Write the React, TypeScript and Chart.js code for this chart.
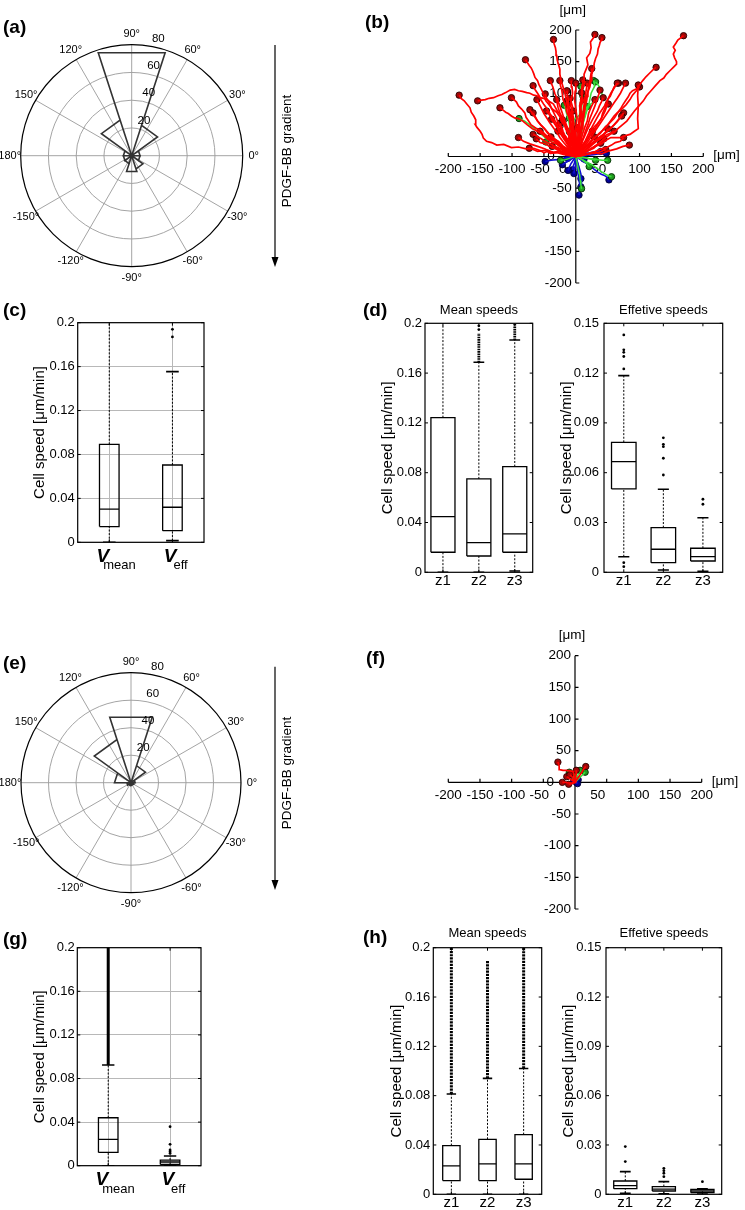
import React, { useEffect, useRef } from 'react';
import { Chart, registerables } from 'chart.js';

Chart.register(...registerables);

const FONT = '"Liberation Sans", Arial, Helvetica, sans-serif';

// ---------------- polar rose (a), (e) ----------------
const roseBinEdgesDeg = [0, 36, 72, 108, 144, 180, 216, 252, 288, 324, 360];
const roseCountsA = [6, 23, 78, 27, 6, 6, 6, 12, 10, 6];
const roseCountsE = [3, 13, 50, 33, 12, 3, 2, 2, 2, 2];
const polarRingValues = [20, 40, 60, 80];
const polarSpokeDeg = [0, 30, 60, 90, 120, 150, 180, 210, 240, 270, 300, 330];
const polarAngleLabels = ['0°', '30°', '60°', '90°', '120°', '150°', '180°', '-150°', '-120°', '-90°', '-60°', '-30°'];
const polarRadialLabels = ['20', '40', '60', '80'];
const gradientLabel = 'PDGF-BB gradient';

// ---------------- trajectories (b), (f) ----------------
type P = [number, number];
const trajTicks = [-200, -150, -100, -50, 0, 50, 100, 150, 200];
const trajTickLabels = ['-200', '-150', '-100', '-50', '0', '50', '100', '150', '200'];
const trajUnit = '[μm]';

const redTracksB: P[][] = [
  [[0,0],[-8,6],[-15,3],[-25,8],[-34,6],[-44,10],[-55,9],[-66,13],[-78,12],[-90,15],[-101,14],[-113,19],[-124,18],[-132,22],[-140,24],[-145,29],[-147,35],[-150,40],[-155,46],[-158,51],[-157,58],[-160,64],[-164,70],[-166,77],[-171,83],[-175,88],[-180,92],[-183,97]],
  [[0,0],[-3,9],[-6,18],[-11,28],[-10,36],[-14,45],[-19,54],[-24,66],[-29,72],[-35,83],[-40,86],[-45,90],[-51,92],[-56,93],[-61,96],[-66,97],[-72,100],[-77,101],[-84,103],[-90,104],[-96,106],[-103,105],[-110,101],[-116,98],[-122,96],[-129,93],[-136,92],[-142,90],[-148,89],[-154,88]],
  [[0,0],[-5,6],[-8,10],[-14,12],[-20,15],[-26,20],[-32,24],[-38,26],[-45,30],[-50,37],[-56,42],[-63,45],[-70,50],[-74,56],[-78,62],[-80,69],[-85,75],[-90,80],[-93,86],[-97,90],[-101,93]],
  [[0,0],[-7,4],[-14,6],[-22,13],[-30,20],[-37,22],[-44,27],[-52,35],[-60,40],[-68,44],[-76,50],[-83,56],[-90,60],[-96,61],[-101,64],[-106,68],[-110,70],[-115,74],[-119,77]],
  [[0,0],[-2,9],[-4,18],[-8,28],[-10,40],[-16,47],[-22,55],[-25,63],[-30,70],[-37,75],[-42,82],[-47,88],[-50,95],[-52,102],[-55,108],[-58,114],[-60,120],[-64,125],[-66,131],[-68,136],[-70,140],[-73,144],[-75,147],[-77,150],[-79,153]],
  [[0,0],[3,11],[2,22],[-2,36],[-5,50],[-6,60],[-9,70],[-12,80],[-15,90],[-17,100],[-20,110],[-23,120],[-25,130],[-25,138],[-27,145],[-29,152],[-30,160],[-31,166],[-32,172],[-34,178],[-35,185]],
  [[0,0],[4,12],[2,22],[6,35],[3,48],[9,62],[7,76],[11,90],[10,104],[14,118],[13,130],[19,145],[17,156],[22,163],[24,172],[23,181],[28,188],[30,193]],
  [[0,0],[4,10],[6,20],[7,32],[10,45],[11,58],[14,72],[15,86],[18,100],[22,110],[24,120],[25,130],[28,140],[29,148],[31,155],[34,162],[35,170],[37,176],[38,180],[40,184],[41,188]],
  [[0,0],[8,2],[14,6],[21,10],[28,13],[34,19],[40,24],[47,30],[54,35],[60,38],[66,44],[73,50],[80,56],[86,64],[92,72],[99,80],[106,88],[111,96],[118,104],[125,112],[132,120],[138,124],[142,130],[148,136],[153,141],[158,146],[158,150],[155,156],[153,162],[156,168],[153,173],[157,179],[160,184],[165,188],[169,191]],
  [[0,0],[6,8],[12,14],[21,21],[30,30],[37,37],[44,43],[52,52],[60,60],[65,68],[72,75],[79,82],[85,90],[89,97],[95,104],[99,112],[105,120],[110,126],[116,132],[121,137],[126,141]],
  [[0,0],[5,7],[10,12],[18,18],[25,25],[31,31],[38,36],[44,44],[50,50],[55,57],[60,64],[66,70],[70,75],[74,82],[78,88],[82,94],[85,100],[89,104],[93,106],[97,108],[100,110]],
  [[0,0],[3,8],[8,16],[14,22],[20,30],[24,38],[28,46],[34,52],[40,60],[42,68],[45,75],[48,82],[50,90],[54,95],[56,100],[58,105],[60,110],[64,114],[67,116]],
  [[0,0],[3,9],[5,18],[6,28],[8,40],[10,48],[12,58],[13,70],[15,80],[17,88],[18,95],[19,102],[20,110],[22,118],[23,125],[24,132],[25,139]],
  [[0,0],[-3,7],[-7,14],[-10,22],[-15,30],[-20,36],[-26,44],[-30,52],[-35,60],[-40,67],[-44,74],[-50,82],[-55,90],[-57,95],[-60,100],[-64,106],[-67,112]],
  [[0,0],[-2,10],[-4,20],[-7,30],[-10,40],[-14,48],[-18,58],[-21,68],[-25,80],[-29,90],[-33,100],[-36,110],[-40,120]],
  [[0,0],[1,12],[-2,24],[-4,36],[-8,50],[-10,60],[-14,70],[-16,80],[-20,90],[-21,98],[-22,105],[-24,112],[-25,120]],
  [[0,0],[-2,10],[1,20],[-1,30],[-3,40],[-4,52],[-6,62],[-6,72],[-8,80],[-7,90],[-5,100],[-6,110],[-7,120]],
  [[0,0],[1,12],[3,24],[2,36],[4,50],[5,60],[7,70],[6,80],[8,90],[10,98],[9,105],[10,113],[11,121]],
  [[0,0],[-5,9],[-10,18],[-14,26],[-20,35],[-23,44],[-27,52],[-31,62],[-35,70],[-39,78],[-42,86],[-46,92],[-48,99]],
  [[0,0],[-6,7],[-12,14],[-19,22],[-25,30],[-29,37],[-34,44],[-40,52],[-45,60],[-50,68],[-54,76],[-58,84],[-61,90]],
  [[0,0],[-8,6],[-16,12],[-23,19],[-30,25],[-36,30],[-42,36],[-48,43],[-55,50],[-60,56],[-64,62],[-68,68],[-72,74]],
  [[0,0],[-7,4],[-14,8],[-22,14],[-30,20],[-35,26],[-40,32],[-45,38],[-50,45],[-55,50],[-60,56],[-63,62],[-67,69]],
  [[0,0],[6,4],[12,8],[18,14],[25,20],[32,25],[38,30],[44,35],[50,40],[54,44],[58,48],[62,52],[65,55],[68,59],[70,62],[73,66],[75,69]],
  [[0,0],[8,7],[15,14],[22,19],[30,25],[36,30],[42,34],[48,40],[55,45],[60,50],[64,55],[68,60],[72,64]],
  [[0,0],[5,7],[10,14],[15,22],[20,30],[25,37],[30,44],[35,52],[40,60],[43,66],[46,72],[48,78],[51,83]],
  [[0,0],[-1,8],[-3,16],[-4,23],[-5,30],[-7,38],[-8,45],[-9,52],[-10,60],[-11,67],[-12,74],[-13,81],[-14,88]],
  [[0,0],[4,8],[8,16],[11,26],[15,35],[18,42],[22,50],[26,58],[30,65],[34,72],[37,80],[40,86],[43,93]],
  [[0,0],[-9,2],[-18,3],[-29,6],[-40,5],[-45,8],[-50,6],[-55,9],[-60,8],[-64,10],[-67,11],[-70,12],[-73,13]],
  [[0,0],[-7,3],[-15,6],[-22,11],[-30,15],[-35,17],[-40,20],[-45,22],[-50,25],[-54,28],[-58,30],[-62,33],[-67,35]],
  [[0,0],[5,3],[10,6],[15,11],[20,15],[25,18],[30,22],[35,26],[40,30],[43,34],[46,37],[48,40],[50,44]],
  [[0,0],[5,2],[10,4],[15,7],[20,10],[24,12],[28,15],[32,18],[35,20],[38,22],[40,24],[42,26],[44,28]],
  [[0,0],[6,1],[12,2],[18,4],[25,5],[29,5],[33,6],[37,7],[40,8],[42,9],[44,10],[47,11]],
  [[0,0],[-4,6],[-8,12],[-12,18],[-15,25],[-19,30],[-22,36],[-25,40],[-28,45],[-30,48],[-33,52],[-36,56],[-38,59]],
  [[0,0],[-3,5],[-5,10],[-8,15],[-10,20],[-12,25],[-15,30],[-18,35],[-20,40],[-21,43],[-22,46],[-24,49],[-25,52]],
  [[0,0],[4,10],[8,20],[12,30],[15,40],[19,50],[22,60],[26,70],[30,80],[32,86],[34,92],[36,98],[38,105]],
  [[0,0],[-1,10],[-2,20],[-4,30],[-5,40],[-7,48],[-8,58],[-9,66],[-10,75],[-11,82],[-12,90],[-13,97],[-14,104]],
  [[0,0],[-5,8],[-10,15],[-15,22],[-20,30],[-24,36],[-27,42],[-31,48],[-35,55],[-38,60],[-40,64],[-43,68],[-46,72]],
  [[0,0],[2,10],[3,20],[4,30],[5,40],[6,48],[6,55],[7,62],[7,70],[8,78],[8,85],[9,93],[9,101]],
  [[0,0],[-1,8],[-1,15],[-2,22],[-2,30],[-3,35],[-3,40],[-4,45],[-4,50],[-3,56],[-4,62],[-5,67],[-4,72]],
  [[0,0],[-3,10],[-6,20],[-10,30],[-14,40],[-17,49],[-21,58]],
  [[0,0],[-7,3],[-15,5],[-21,8],[-28,10],[-33,13],[-37,16]],
  [[0,0],[-7,5],[-14,10],[-21,15],[-28,20],[-34,26],[-39,31]],
  [[0,0],[5,5],[10,10],[15,15],[20,20],[25,26],[29,31]],
  [[0,0],[7,4],[14,8],[21,11],[28,14],[34,18],[39,21]],
  [[0,0],[7,12],[15,25],[22,40],[30,55],[37,68],[45,80],[50,90],[55,100],[60,108],[65,116]],
  [[0,0],[10,12],[20,25],[30,40],[40,55],[50,70],[60,85],[65,92],[70,100],[74,108],[78,116]],
  [[0,0],[-2,15],[-3,30],[0,45],[2,60],[0,75],[-2,90],[-1,103],[0,116]],
  [[0,0],[3,15],[6,30],[8,45],[10,60],[12,75],[14,90],[16,103],[18,116]],
  [[0,0],[-3,15],[-5,30],[-7,45],[-9,60],[-11,72],[-13,84]],
  [[0,0],[10,5],[20,10],[30,16],[40,20],[48,26],[55,30],[62,30],[70,30],[78,33],[85,35],[92,40],[98,44],[97,60],[98,80],[97,96],[98,113]],
  [[0,0],[-4,8],[-8,14],[-12,22],[-18,28],[-22,35],[-28,40]],
  [[0,0],[4,8],[9,12],[13,20],[18,26],[22,34],[26,40]],
  [[0,0],[2,10],[-2,18],[1,28],[-1,36],[2,45]],
  [[0,0],[-6,5],[-12,12],[-20,16],[-27,24],[-34,28],[-42,30],[-50,36],[-56,40]],
  [[0,0],[6,5],[14,9],[22,15],[28,22],[36,26],[44,32],[52,36],[60,40]],
  [[0,0],[-2,12],[-8,22],[-10,34],[-16,44],[-18,56],[-24,66],[-28,78],[-30,90]],
  [[0,0],[2,12],[8,22],[10,34],[14,46],[18,56],[20,68],[24,78],[30,90]],
  [[0,0],[-10,4],[-20,6],[-28,12],[-38,14],[-48,20],[-56,22],[-62,28]],
  [[0,0],[10,2],[20,5],[30,8],[40,12],[48,14],[56,18],[62,22],[70,24],[75,30]],
  [[0,0],[-3,14],[-1,26],[-5,40],[-3,52],[-7,66],[-5,78],[-9,92]],
  [[0,0],[5,14],[3,26],[7,40],[5,52],[9,66],[7,78],[12,90]],
  [[0,0],[-14,2],[-26,8],[-38,6],[-48,12],[-60,16],[-72,20],[-82,24],[-90,30]],
  [[0,0],[16,3],[28,6],[40,4],[52,9],[64,12],[74,16],[84,18]],
];
const greenTracksB: P[][] = [
  [[0,0],[-5,5],[-10,8],[-16,11],[-22,14],[-28,18],[-35,22],[-42,26],[-48,30],[-54,35],[-60,40],[-66,45],[-72,50],[-76,53],[-80,56],[-85,58],[-89,60]],
  [[0,0],[-2,10],[-4,20],[-6,30],[-8,40],[-10,50],[-12,60],[-15,70],[-18,81]],
  [[0,0],[2,12],[4,25],[5,38],[6,50],[8,62],[9,75],[10,86],[11,96]],
  [[0,0],[3,15],[6,30],[9,42],[12,55],[16,68],[20,80],[22,90],[24,100],[27,106],[30,112],[29,116],[28,120]],
  [[0,0],[2,15],[3,30],[5,45],[6,60],[6,72],[7,85],[8,98],[8,111]],
  [[0,0],[-3,8],[-5,15],[-8,27],[-10,39]],
  [[0,0],[-8,4],[-15,8],[-22,11],[-30,14],[-38,18],[-47,23]],
  [[0,0],[10,-1],[20,-3],[28,-4],[35,-5],[42,-6],[50,-6]],
  [[0,0],[10,-5],[20,-10],[28,-15],[35,-20],[40,-24],[45,-27],[50,-30],[56,-32]],
  [[0,0],[2,-10],[4,-20],[6,-29],[7,-38],[8,-45],[9,-51]],
  [[0,0],[-5,-1],[-10,-3],[-17,-5],[-24,-6]],
  [[0,0],[5,-2],[10,-5],[16,-10],[21,-16]],
  [[0,0],[-2,15],[-3,30],[-2,45],[-3,58],[4,64],[10,70],[15,75],[20,80],[26,85],[32,90],[37,94],[42,97],[40,102],[38,108],[35,113],[31,118]],
  [[0,0],[4,15],[8,30],[10,42],[12,55],[15,67],[18,79]],
  [[0,0],[-2,12],[-5,25],[-6,35],[-8,45],[-9,53],[-10,61]],
  [[0,0],[-2,10],[-3,21]],
  [[0,0],[8,-1],[15,-2],[23,-4],[31,-6]],
];
const blueTracksB: P[][] = [
  [[0,0],[-8,-1],[-15,-2],[-22,-3],[-30,-5],[-39,-6],[-48,-8]],
  [[0,0],[-5,-3],[-10,-6],[-15,-9],[-21,-13]],
  [[0,0],[-6,-2],[-13,-3]],
  [[0,0],[-1,-5],[-2,-10],[-4,-15],[-5,-21]],
  [[0,0],[0,-7],[-1,-14],[-2,-20],[-3,-27]],
  [[0,0],[2,-8],[4,-15],[6,-25],[8,-35]],
  [[0,0],[3,-10],[6,-20],[8,-28],[9,-35],[9,-42],[8,-48]],
  [[0,0],[2,-12],[3,-25],[5,-35],[6,-45],[6,-53],[5,-61]],
  [[0,0],[9,-6],[18,-12],[26,-18],[35,-25],[40,-28],[45,-30],[49,-33],[52,-37]],
  [[0,0],[7,-2],[13,-4]],
  [[0,0],[8,3],[15,5],[22,6],[28,7],[34,8],[39,8]],
  [[0,0],[10,1],[20,2],[28,3],[35,4],[42,5],[48,5]],
  [[0,0],[-4,-6],[-8,-12],[-10,-17],[-12,-22]],
];
const redTracksF: P[][] = [
  [[0,0],[-1,8],[-3,17],[-8,18],[-14,19],[-19,19],[-24,20],[-25,26],[-27,32]],
  [[0,0],[-5,-1],[-10,-1],[-15,0],[-20,0]],
  [[0,0],[-5,-2],[-10,-3]],
  [[0,0],[1,5],[1,10],[2,15],[2,19]],
  [[0,0],[4,6],[8,12],[11,16],[13,20],[15,23],[17,25]],
  [[0,0],[-4,3],[-7,5],[-10,7],[-13,9]],
  [[0,0],[-2,4],[-4,8],[-6,10],[-8,12]],
];
const greenTracksF: P[][] = [
  [[0,0],[-3,4],[-5,8],[-7,12],[-9,16]],
  [[0,0],[-1,3],[-2,6],[-3,12]],
  [[0,0],[4,4],[8,8],[12,12],[16,16]],
  [[0,0],[2,5],[4,10],[6,15],[8,19]],
];
const blueTracksF: P[][] = [
  [[0,0],[2,0]],
  [[0,0],[2,2],[4,3],[5,4]],
  [[0,0],[3,-1],[4,-2]],
  [[0,0],[-1,2],[-2,3]],
];

// ---------------- box plots ----------------
const speedAxisTitle = 'Cell speed [μm/min]';
const meanTitle = 'Mean speeds';
const effTitle = 'Effetive speeds';
const zoneCats = ['z1', 'z2', 'z3'];
const vLabelMain = 'V';
const vLabelSubs = ['mean', 'eff'];
const speedTicks = [0, 0.04, 0.08, 0.12, 0.16, 0.2];
const speedTickLabels = ['0', '0.04', '0.08', '0.12', '0.16', '0.2'];
const effTicks = [0, 0.03, 0.06, 0.09, 0.12, 0.15];
const effTickLabels = ['0', '0.03', '0.06', '0.09', '0.12', '0.15'];

// (c)
const cQ1 = [0.0143, 0.0106];
const cMedian = [0.0303, 0.0319];
const cQ3 = [0.0892, 0.0704];
const cWhiskLo = [0, 0.0015];
const cWhiskHi = [0.24, 0.1554];
const cOutliers = [[], [0.187, 0.194]];
const cDense = [null, null];

// (d) mean
const dMeanQ1 = [0.0161, 0.0131, 0.0161];
const dMeanMedian = [0.0447, 0.0238, 0.0308];
const dMeanQ3 = [0.1242, 0.075, 0.0849];
const dMeanLo = [0, 0, 0.001];
const dMeanHi = [0.24, 0.1687, 0.1866];
const dMeanOutliers = [[], [0.195, 0.198], []];
const dMeanDense = [null, [0.1687, 0.192], [0.1866, 0.2]];

// (d) effective
const dEffQ1 = [0.0502, 0.0058, 0.0068];
const dEffMedian = [0.0667, 0.0139, 0.0094];
const dEffQ3 = [0.0783, 0.0269, 0.0145];
const dEffLo = [0.0094, 0.0014, 0.0006];
const dEffHi = [0.1185, 0.05, 0.0329];
const dEffOutliers = [[0.1225, 0.13, 0.1325, 0.134, 0.143, 0.0058, 0.0034], [0.0586, 0.0687, 0.0757, 0.0771, 0.081], [0.041, 0.044]];
const dEffDense = [null, null, null];

// (g)
const gQ1 = [0.0122, 0.0012];
const gMedian = [0.0242, 0.0034];
const gQ3 = [0.044, 0.0052];
const gLo = [0, 0.0002];
const gHi = [0.0924, 0.0089];
const gOutliers = [[], [0.0113, 0.0128, 0.0144, 0.0196, 0.0358]];
const gDense = [[0.0924, 0.2], null];

// (h) mean
const hMeanQ1 = [0.0111, 0.0111, 0.0122];
const hMeanMedian = [0.023, 0.0246, 0.0246];
const hMeanQ3 = [0.0395, 0.0446, 0.0484];
const hMeanLo = [0, 0, 0];
const hMeanHi = [0.0814, 0.094, 0.102];
const hMeanOutliers = [[], [], []];
const hMeanDense = [[0.0814, 0.2], [0.094, 0.19], [0.102, 0.2]];

// (h) effective
const hEffQ1 = [0.0034, 0.002, 0.001];
const hEffMedian = [0.0053, 0.0032, 0.002];
const hEffQ3 = [0.0081, 0.0047, 0.003];
const hEffLo = [0.0006, 0.0003, 0.0002];
const hEffHi = [0.0138, 0.0077, 0.0034];
const hEffOutliers = [[0.0199, 0.029], [0.0107, 0.0128, 0.0144, 0.0158], [0.0077]];
const hEffDense = [null, null, null];

// ---------------- helpers ----------------
const baseOptions = (padding: any) => ({
  responsive: false,
  animation: false,
  events: [],
  layout: { padding },
  plugins: { legend: { display: false }, tooltip: { enabled: false }, title: { display: false } },
});

function polarConfig(counts: number[], deco: any) {
  const pts: any[] = [];
  counts.forEach((v, i) => {
    const a0 = (roseBinEdgesDeg[i] * Math.PI) / 180;
    const a1 = (roseBinEdgesDeg[i + 1] * Math.PI) / 180;
    pts.push({ x: 0, y: 0 }, { x: v * Math.cos(a0), y: v * Math.sin(a0) }, { x: v * Math.cos(a1), y: v * Math.sin(a1) }, { x: 0, y: 0 });
  });
  const rMax = polarRingValues[polarRingValues.length - 1];
  const plugin = {
    id: 'polarDeco',
    beforeDatasetsDraw(chart: any) {
      const { ctx } = chart;
      const xs = chart.scales.x, ys = chart.scales.y;
      const cx = xs.getPixelForValue(0), cy = ys.getPixelForValue(0);
      const R = xs.getPixelForValue(rMax) - cx;
      ctx.save();
      ctx.strokeStyle = '#9a9a9a';
      ctx.lineWidth = 0.9;
      for (const a of polarSpokeDeg) {
        const t = (a * Math.PI) / 180;
        ctx.beginPath();
        ctx.moveTo(cx, cy);
        ctx.lineTo(cx + R * Math.cos(t), cy - R * Math.sin(t));
        ctx.stroke();
      }
      for (const r of polarRingValues.slice(0, -1)) {
        const rp = xs.getPixelForValue(r) - cx;
        ctx.beginPath();
        ctx.arc(cx, cy, rp, 0, Math.PI * 2);
        ctx.stroke();
      }
      ctx.strokeStyle = '#000';
      ctx.lineWidth = 1.2;
      ctx.beginPath();
      ctx.arc(cx, cy, R, 0, Math.PI * 2);
      ctx.stroke();
      ctx.fillStyle = '#000';
      ctx.font = `11px ${FONT}`;
      ctx.textAlign = 'center';
      ctx.textBaseline = 'middle';
      polarSpokeDeg.forEach((a, i) => {
        const t = (a * Math.PI) / 180;
        ctx.fillText(polarAngleLabels[i], cx + (R + 11) * Math.cos(t), cy - (R + 11) * Math.sin(t));
      });
      ctx.lineWidth = 1.2;
      ctx.beginPath();
      ctx.moveTo(deco.arrowX, deco.arrowTop);
      ctx.lineTo(deco.arrowX, deco.arrowBottom - 8);
      ctx.stroke();
      ctx.beginPath();
      ctx.moveTo(deco.arrowX - 3.5, deco.arrowBottom - 10);
      ctx.lineTo(deco.arrowX + 3.5, deco.arrowBottom - 10);
      ctx.lineTo(deco.arrowX, deco.arrowBottom);
      ctx.closePath();
      ctx.fill();
      ctx.save();
      ctx.translate(deco.textX, deco.textY);
      ctx.rotate(-Math.PI / 2);
      ctx.font = `13.5px ${FONT}`;
      ctx.fillText(gradientLabel, 0, 0);
      ctx.restore();
      ctx.restore();
    },
    afterDatasetsDraw(chart: any) {
      const { ctx } = chart;
      const xs = chart.scales.x, ys = chart.scales.y;
      const cx = xs.getPixelForValue(0), cy = ys.getPixelForValue(0);
      ctx.save();
      ctx.fillStyle = '#000';
      ctx.font = `11.5px ${FONT}`;
      ctx.textAlign = 'left';
      ctx.textBaseline = 'middle';
      const t = (80 * Math.PI) / 180;
      polarRingValues.forEach((r, i) => {
        const rp = xs.getPixelForValue(r) - cx;
        ctx.fillText(polarRadialLabels[i], cx + rp * Math.cos(t) + 1, cy - rp * Math.sin(t) - 8);
      });
      ctx.restore();
    },
  };
  return {
    type: 'scatter',
    data: {
      datasets: [{ data: pts, showLine: true, borderColor: '#333', borderWidth: 1.6, pointRadius: 0, tension: 0, clip: false }],
    },
    options: {
      ...baseOptions(deco.padding),
      scales: {
        x: { type: 'linear', min: -rMax, max: rMax, display: false },
        y: { type: 'linear', min: -rMax, max: rMax, display: false },
      },
    },
    plugins: [plugin],
  };
}

const xLabelShift: Record<string, number> = { '-50': -4, '0': -13, '50': -9 };

function trajConfig(red: P[][], green: P[][], blue: P[][], padding: any) {
  const lines = (tracks: P[][], color: string, width: number) =>
    tracks.map((t) => ({
      data: t.map(([x, y]) => ({ x, y })),
      showLine: true,
      borderColor: color,
      borderWidth: width,
      pointRadius: 0,
      tension: 0,
      clip: false,
    }));
  const ends = (tracks: P[][], fill: string, edge: string) => ({
    data: tracks.map((t) => ({ x: t[t.length - 1][0], y: t[t.length - 1][1] })),
    showLine: false,
    pointRadius: 3.2,
    pointBackgroundColor: fill,
    pointBorderColor: edge,
    pointBorderWidth: 0.9,
    clip: false,
  });
  const plugin = {
    id: 'trajAxes',
    beforeDatasetsDraw(chart: any) {
      const { ctx } = chart;
      const xs = chart.scales.x, ys = chart.scales.y;
      const ox = xs.getPixelForValue(0), oy = ys.getPixelForValue(0);
      const lo = trajTicks[0], hi = trajTicks[trajTicks.length - 1];
      ctx.save();
      ctx.strokeStyle = '#000';
      ctx.lineWidth = 1.2;
      ctx.beginPath();
      ctx.moveTo(xs.getPixelForValue(lo), oy);
      ctx.lineTo(xs.getPixelForValue(hi), oy);
      ctx.moveTo(ox, ys.getPixelForValue(hi));
      ctx.lineTo(ox, ys.getPixelForValue(lo));
      for (const v of trajTicks) {
        if (v === 0) continue;
        const px = xs.getPixelForValue(v);
        ctx.moveTo(px, oy);
        ctx.lineTo(px, oy - 3.5);
        const py = ys.getPixelForValue(v);
        ctx.moveTo(ox, py);
        ctx.lineTo(ox + 3.5, py);
      }
      ctx.stroke();
      ctx.fillStyle = '#000';
      ctx.font = `13.5px ${FONT}`;
      ctx.textBaseline = 'middle';
      trajTicks.forEach((v, i) => {
        const lab = trajTickLabels[i];
        ctx.textAlign = 'center';
        ctx.fillText(lab, xs.getPixelForValue(v) + (xLabelShift[lab] || 0), oy + 13);
        ctx.textAlign = 'right';
        ctx.fillText(lab, v === 0 ? ox - 21 : ox - 4, ys.getPixelForValue(v));
      });
      ctx.textAlign = 'center';
      ctx.fillText(trajUnit, ox - 3, ys.getPixelForValue(hi) - 20);
      ctx.textAlign = 'left';
      ctx.fillText(trajUnit, xs.getPixelForValue(hi) + 10, oy - 1);
      ctx.restore();
    },
  };
  return {
    type: 'scatter',
    data: {
      datasets: [
        ...lines(red, '#ff0000', 1.7),
        ends(red, '#a00808', '#2a0000'),
        ...lines(green, '#3ae03a', 1.5),
        ends(green, '#1f9a1f', '#002a00'),
        ...lines(blue, '#1010d0', 1.6),
        ends(blue, '#000090', '#000030'),
      ],
    },
    options: {
      ...baseOptions(padding),
      scales: {
        x: { type: 'linear', min: -200, max: 200, display: false },
        y: { type: 'linear', min: -200, max: 200, display: false },
      },
    },
    plugins: [plugin],
  };
}

function boxConfig(s: any) {
  const n = s.q1.length;
  const ds: any[] = [];
  const seg = (pts: any[], extra: any = {}) => ({
    data: pts, showLine: true, pointRadius: 0, borderColor: '#000', borderWidth: 1.3, tension: 0, ...extra,
  });
  for (let i = 0; i < n; i++) {
    const x = i + 1;
    ds.push(seg([{ x, y: s.q3[i] }, { x, y: s.hi[i] }], { borderDash: [2, 1.6], borderWidth: 1 }));
    ds.push(seg([{ x, y: s.lo[i] }, { x, y: s.q1[i] }], { borderDash: [2, 1.6], borderWidth: 1 }));
    const d = s.dense[i];
    if (d) ds.push(seg([{ x, y: d[0] }, { x, y: d[1] }], { borderWidth: s.denseWidth, borderDash: s.denseDash }));
  }
  for (let i = 0; i < n; i++) {
    const x = i + 1, w = s.halfW, c = s.capHalf;
    ds.push(seg([
      { x: x - w, y: s.q1[i] }, { x: x + w, y: s.q1[i] }, { x: x + w, y: s.q3[i] }, { x: x - w, y: s.q3[i] }, { x: x - w, y: s.q1[i] },
    ]));
    ds.push(seg([{ x: x - w, y: s.med[i] }, { x: x + w, y: s.med[i] }]));
    ds.push(seg([{ x: x - c, y: s.hi[i] }, { x: x + c, y: s.hi[i] }], { borderWidth: 1.6 }));
    ds.push(seg([{ x: x - c, y: s.lo[i] }, { x: x + c, y: s.lo[i] }], { borderWidth: 1.6 }));
  }
  const outPts: any[] = [];
  s.outliers.forEach((arr: number[], i: number) => arr.forEach((y) => outPts.push({ x: i + 1, y })));
  ds.push({ data: outPts, showLine: false, pointRadius: 1.4, pointBackgroundColor: '#000', pointBorderWidth: 0 });

  const gridOpt = s.grid
    ? { display: true, color: '#b8b8b8', lineWidth: 1, drawTicks: false }
    : { display: false, drawTicks: false };

  const plugin = {
    id: 'boxDeco',
    afterDatasetsDraw(chart: any) {
      const { ctx, chartArea: a } = chart;
      const xs = chart.scales.x, ys = chart.scales.y;
      ctx.save();
      ctx.strokeStyle = '#000';
      ctx.lineWidth = 1.2;
      ctx.strokeRect(a.left, a.top, a.right - a.left, a.bottom - a.top);
      ctx.lineWidth = 1;
      ctx.beginPath();
      for (const v of s.yTicks) {
        const y = ys.getPixelForValue(v);
        ctx.moveTo(a.left, y); ctx.lineTo(a.left + 3, y);
        ctx.moveTo(a.right, y); ctx.lineTo(a.right - 3, y);
      }
      for (let i = 0; i < n; i++) {
        const x = xs.getPixelForValue(i + 1);
        ctx.moveTo(x, a.top); ctx.lineTo(x, a.top + 3);
        ctx.moveTo(x, a.bottom); ctx.lineTo(x, a.bottom - 3);
      }
      ctx.stroke();
      ctx.fillStyle = '#000';
      if (s.title) {
        ctx.font = `13px ${FONT}`;
        ctx.textAlign = 'center';
        ctx.textBaseline = 'middle';
        ctx.fillText(s.title, (a.left + a.right) / 2, s.titleY);
      }
      ctx.save();
      ctx.translate(s.yTitleX, (a.top + a.bottom) / 2);
      ctx.rotate(-Math.PI / 2);
      ctx.font = `15px ${FONT}`;
      ctx.textAlign = 'center';
      ctx.textBaseline = 'middle';
      ctx.fillText(speedAxisTitle, 0, 0);
      ctx.restore();
      if (s.vLabels) {
        ctx.textBaseline = 'alphabetic';
        for (let i = 0; i < n; i++) {
          const x = xs.getPixelForValue(i + 1);
          ctx.font = `italic bold 19px ${FONT}`;
          ctx.textAlign = 'right';
          ctx.fillText(vLabelMain, x + s.vRight[i], a.bottom + 19.6);
          ctx.font = `13px ${FONT}`;
          ctx.textAlign = 'left';
          ctx.fillText(vLabelSubs[i], x + s.subLeft[i], a.bottom + 27);
        }
      }
      ctx.restore();
    },
  };

  return {
    type: 'scatter',
    data: { datasets: ds },
    options: {
      ...baseOptions({ left: 0, top: s.padTop, right: s.padRight, bottom: 0 }),
      scales: {
        x: {
          type: 'linear', min: 0.5, max: n + 0.5,
          afterBuildTicks: (sc: any) => { sc.ticks = s.cats.map((_: any, i: number) => ({ value: i + 1 })); },
          afterFit: (sc: any) => { sc.height = s.xAxisH; },
          grid: gridOpt,
          border: { display: false },
          ticks: {
            display: !s.vLabels, color: '#000', padding: 0, maxRotation: 0, autoSkip: false,
            font: { family: FONT, size: 15 },
            callback: (_v: any, idx: number) => s.cats[idx],
          },
        },
        y: {
          type: 'linear', min: 0, max: s.yTicks[s.yTicks.length - 1],
          afterBuildTicks: (sc: any) => { sc.ticks = s.yTicks.map((v: number) => ({ value: v })); },
          afterFit: (sc: any) => { sc.width = s.yAxisW; },
          grid: gridOpt,
          border: { display: false },
          ticks: {
            color: '#000', padding: s.tickPad, autoSkip: false,
            font: { family: FONT, size: 13 },
            callback: (_v: any, idx: number) => s.yTickLabels[idx],
          },
        },
      },
    },
    plugins: [plugin],
  };
}

function ChartCanvas({ left, top, width, height, make }: any) {
  const ref = useRef<HTMLCanvasElement>(null);
  useEffect(() => {
    const chart = new Chart(ref.current as any, make());
    return () => chart.destroy();
  }, []);
  return (
    <canvas ref={ref} width={width} height={height}
      style={{ position: 'absolute', left, top, width, height, display: 'block' }} />
  );
}

const panelLabels = [
  { t: '(a)', x: 3, y: 17 },
  { t: '(b)', x: 365, y: 12 },
  { t: '(c)', x: 3, y: 300 },
  { t: '(d)', x: 363, y: 300 },
  { t: '(e)', x: 3, y: 653 },
  { t: '(f)', x: 366, y: 648 },
  { t: '(g)', x: 3, y: 929 },
  { t: '(h)', x: 363, y: 927 },
];

export default function App() {
  useEffect(() => {
    document.body.style.margin = '0';
  }, []);
  return (
    <div style={{ position: 'absolute', left: 0, top: 0, width: 745, height: 1210, overflow: 'hidden', background: '#fff' }}>
      <ChartCanvas left={0} top={0} width={310} height={290}
        make={() => polarConfig(roseCountsA, {
          padding: { left: 20.7, right: 67.3, top: 44.7, bottom: 23.3 },
          arrowX: 275, arrowTop: 45, arrowBottom: 267, textX: 287, textY: 151,
        })} />
      <ChartCanvas left={0} top={610} width={310} height={300}
        make={() => polarConfig(roseCountsE, {
          padding: { left: 21, right: 69, top: 62.7, bottom: 17.3 },
          arrowX: 275, arrowTop: 56.7, arrowBottom: 280, textX: 287, textY: 163,
        })} />
      <ChartCanvas left={420} top={0} width={325} height={300}
        make={() => trajConfig(redTracksB, greenTracksB, blueTracksB, { left: 28.3, right: 41.7, top: 30, bottom: 17 })} />
      <ChartCanvas left={420} top={620} width={325} height={300}
        make={() => trajConfig(redTracksF, greenTracksF, blueTracksF, { left: 28.3, right: 43.3, top: 35.7, bottom: 11 })} />

      <ChartCanvas left={0} top={310} width={215} height={270}
        make={() => boxConfig({
          cats: vLabelSubs, q1: cQ1, med: cMedian, q3: cQ3, lo: cWhiskLo, hi: cWhiskHi, outliers: cOutliers, dense: cDense,
          yTicks: speedTicks, yTickLabels: speedTickLabels, grid: true, vLabels: true,
          halfW: 0.155, capHalf: 0.1, denseWidth: 2.5, denseDash: [],
          yAxisW: 77.7, xAxisH: 37.7, padTop: 12.7, padRight: 11, tickPad: 3, yTitleX: 40,
          vRight: [0, 4], subLeft: [-6, 1],
        })} />
      <ChartCanvas left={370} top={300} width={175} height={300}
        make={() => boxConfig({
          cats: zoneCats, q1: dMeanQ1, med: dMeanMedian, q3: dMeanQ3, lo: dMeanLo, hi: dMeanHi, outliers: dMeanOutliers, dense: dMeanDense,
          yTicks: speedTicks, yTickLabels: speedTickLabels, grid: false, vLabels: false, title: meanTitle, titleY: 10,
          halfW: 0.335, capHalf: 0.15, denseWidth: 2.8, denseDash: [1.6, 0.8],
          yAxisW: 55, xAxisH: 27.7, padTop: 23.3, padRight: 12.3, tickPad: 3, yTitleX: 18.3,
        })} />
      <ChartCanvas left={550} top={300} width={190} height={300}
        make={() => boxConfig({
          cats: zoneCats, q1: dEffQ1, med: dEffMedian, q3: dEffQ3, lo: dEffLo, hi: dEffHi, outliers: dEffOutliers, dense: dEffDense,
          yTicks: effTicks, yTickLabels: effTickLabels, grid: false, vLabels: false, title: effTitle, titleY: 10,
          halfW: 0.31, capHalf: 0.14, denseWidth: 2.8, denseDash: [1.6, 0.8],
          yAxisW: 54, xAxisH: 27.7, padTop: 23.3, padRight: 17.3, tickPad: 5, yTitleX: 16.7,
        })} />
      <ChartCanvas left={0} top={925} width={215} height={285}
        make={() => boxConfig({
          cats: vLabelSubs, q1: gQ1, med: gMedian, q3: gQ3, lo: gLo, hi: gHi, outliers: gOutliers, dense: gDense,
          yTicks: speedTicks, yTickLabels: speedTickLabels, grid: true, vLabels: true,
          halfW: 0.158, capHalf: 0.1, denseWidth: 3, denseDash: [],
          yAxisW: 77.3, xAxisH: 44.3, padTop: 22.7, padRight: 14, tickPad: 2.5, yTitleX: 40,
          vRight: [0, 4], subLeft: [-6, 1],
        })} />
      <ChartCanvas left={375} top={915} width={172} height={295}
        make={() => boxConfig({
          cats: zoneCats, q1: hMeanQ1, med: hMeanMedian, q3: hMeanQ3, lo: hMeanLo, hi: hMeanHi, outliers: hMeanOutliers, dense: hMeanDense,
          yTicks: speedTicks, yTickLabels: speedTickLabels, grid: false, vLabels: false, title: meanTitle, titleY: 18.3,
          halfW: 0.24, capHalf: 0.13, denseWidth: 3, denseDash: [2.2, 1],
          yAxisW: 58.3, xAxisH: 15.7, padTop: 32.7, padRight: 5.3, tickPad: 3, yTitleX: 21.7,
        })} />
      <ChartCanvas left={550} top={915} width={190} height={295}
        make={() => boxConfig({
          cats: zoneCats, q1: hEffQ1, med: hEffMedian, q3: hEffQ3, lo: hEffLo, hi: hEffHi, outliers: hEffOutliers, dense: hEffDense,
          yTicks: effTicks, yTickLabels: effTickLabels, grid: false, vLabels: false, title: effTitle, titleY: 18,
          halfW: 0.3, capHalf: 0.14, denseWidth: 3, denseDash: [],
          yAxisW: 56, xAxisH: 15.7, padTop: 32.7, padRight: 18.3, tickPad: 4.5, yTitleX: 19,
        })} />

      {panelLabels.map((p) => (
        <div key={p.t} style={{ position: 'absolute', left: p.x, top: p.y, font: `bold 19px ${FONT}`, lineHeight: '19px', color: '#000' }}>
          {p.t}
        </div>
      ))}
    </div>
  );
}
